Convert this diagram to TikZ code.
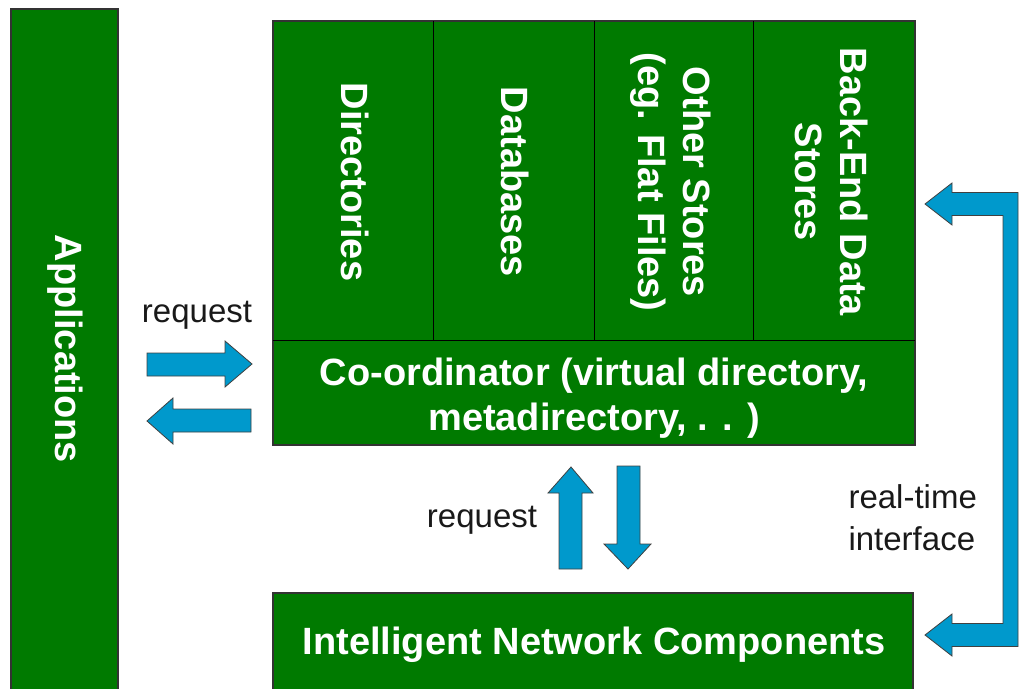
\documentclass[tikz,border=0pt]{standalone}
\usepackage{fontspec}
\setmainfont{Liberation Sans}
\definecolor{boxgreen}{RGB}{0,122,0}
\definecolor{arrowblue}{RGB}{0,153,204}

\begin{document}
\begin{tikzpicture}[x=1pt, y=-1pt,
  box/.style={draw=black!80, line width=1.2pt, fill=boxgreen},
  divider/.style={draw=black, line width=1pt},
  boxtext/.style={text=white, align=center, font=\fontsize{38}{45}\selectfont\bfseries},
  note/.style={text=black!90, align=left, font=\fontsize{33}{42}\selectfont},
  blockarrow/.style={draw=black!75, line width=0.8pt, fill=arrowblue}]
  \useasboundingbox (0,0) rectangle (1019,688);
  \clip (0,0) rectangle (1019,688);

  % green boxes
  \draw[box] (11,9) rectangle (118,700);
  \draw[box] (273,21) rectangle (915,445);
  \draw[box] (273,593) rectangle (913,700);
  \draw[divider] (273,340) -- (915,340);
  \draw[divider] (433,21) -- (433,340);
  \draw[divider] (594,21) -- (594,340);
  \draw[divider] (753,21) -- (753,340);

  \node[boxtext, rotate=-90] (apps) at (65,349) {Applications};
  \node[boxtext, rotate=-90] (dirs) at (355,182) {Directories};
  \node[boxtext, rotate=-90] (dbs) at (515,182) {Databases};
  \node[boxtext, rotate=-90] (other) at (671,182) {Other Stores\\(eg. Flat Files)};
  \node[boxtext, rotate=-90] (backend) at (832,182) {Back-End Data\\Stores};
  \node[boxtext] (coord) at (594,398) {Co-ordinator (virtual directory,\\metadirectory, . . )};
  \node[boxtext] (inc) at (594,645) {Intelligent Network Components};

  \node[note] (req1) at (197,315) {request};
  \node[note] (req2) at (482,520) {request};
  \node[note, anchor=west] (rt) at (845,518) {real-time\\interface};

  % block arrows
  \draw[blockarrow] (147,353) -- (225,353) -- (225,341) -- (252,364) -- (225,387)
    -- (225,376) -- (147,376) -- cycle;
  \draw[blockarrow] (147,421) -- (173,398) -- (173,409) -- (251,409) -- (251,432)
    -- (173,432) -- (173,444) -- cycle;
  \draw[blockarrow] (571,467) -- (593,493) -- (582,493) -- (582,569) -- (559,569)
    -- (559,493) -- (548,493) -- cycle;
  \draw[blockarrow] (628,569) -- (651,544) -- (640,544) -- (640,466) -- (617,466)
    -- (617,544) -- (604,544) -- cycle;
  \draw[blockarrow] (925,204) -- (952,183) -- (952,192.5) -- (1018,192.5) -- (1018,646.5)
    -- (952,646.5) -- (952,656) -- (925,635) -- (952,614) -- (952,623.5) -- (1003,623.5)
    -- (1003,215.5) -- (952,215.5) -- (952,225) -- cycle;
\end{tikzpicture}
\end{document}
